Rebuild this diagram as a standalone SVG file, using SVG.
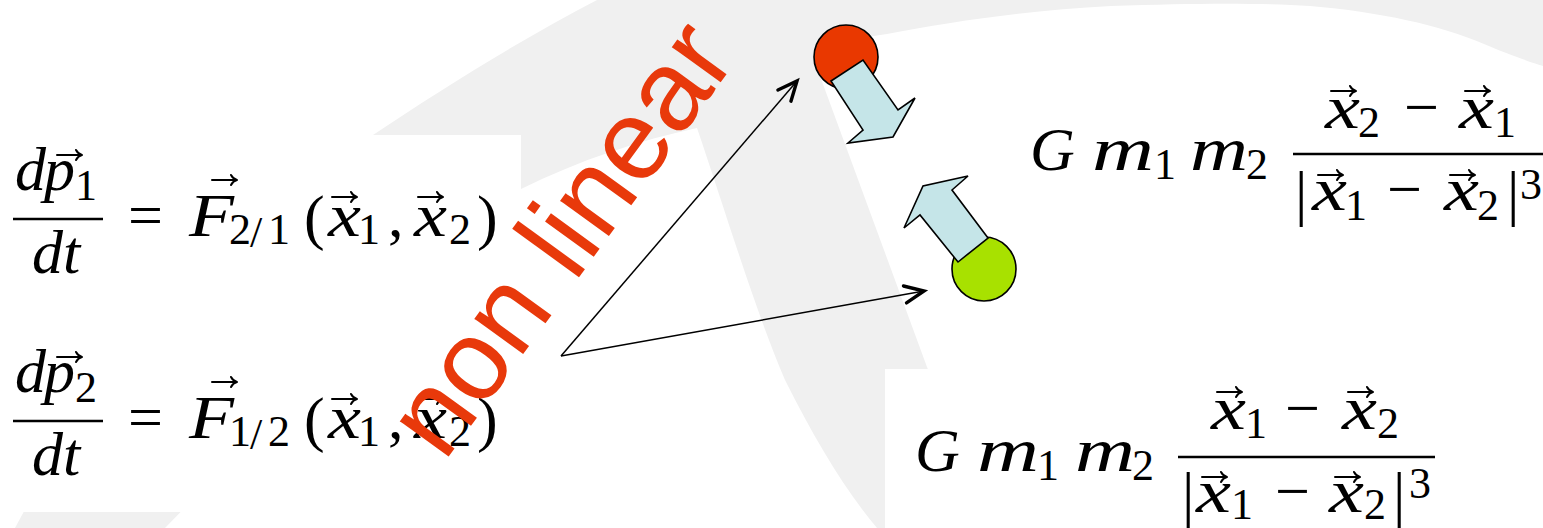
<svg xmlns="http://www.w3.org/2000/svg" xmlns:xlink="http://www.w3.org/1999/xlink" width="1543" height="528" viewBox="0 0 1543 528">
<style>
.i{font-family:"Liberation Serif","Times New Roman",serif;font-style:italic;font-size:62px;fill:#000}
.u{font-family:"Liberation Serif","Times New Roman",serif;font-style:normal;font-size:62px;fill:#000}
.s{font-family:"Liberation Serif","Times New Roman",serif;font-style:normal;font-size:44px;fill:#000}
.bar{stroke:#000;stroke-width:2.6}
.vec{fill:none;stroke:#000;stroke-width:2;stroke-linecap:round;stroke-linejoin:round}
.ball{stroke:#000;stroke-width:1.6}
.blk{fill:#c5e5e8;stroke:#000;stroke-width:1.6;stroke-linejoin:miter}
.con{fill:none;stroke:#000;stroke-width:1.5}
.nl{font-family:"Liberation Sans",Arial,sans-serif;font-size:114px;fill:#e8390b}
</style>
<defs>
<path id="vec" class="vec" d="M0,0 H24 M19,-5 Q21,-1 25,0 Q21,1 19,5"/>
<marker id="head" markerUnits="userSpaceOnUse" markerWidth="30" markerHeight="30" viewBox="-24 -12 28 24" refX="0" refY="0" orient="auto" overflow="visible">
<path d="M-18,-8 L0,0 L-18,8" fill="none" stroke="#000" stroke-width="3.2" stroke-linecap="round" stroke-linejoin="miter"/>
</marker>
</defs>

<g id="background">
<rect x="0" y="0" width="1543" height="528" fill="#fff"/>
<path d="M15,528 C120,330 250,200 373,135 C440,90 520,40 597,0 L1543,0 L1543,528 Z" fill="#f0f0f0"/>
<path d="M165,528 C300,390 430,250 521,189 C580,160 640,140 697,128 C725,210 755,310 785,380 C815,440 845,490 877,528 Z" fill="#fff"/>
<path d="M985,528 C960,450 940,400 927,367 L813,57 C830,45 855,38 887,34 C950,22 1030,10 1111,6 C1200,3 1260,3 1310,6 C1380,12 1440,25 1484,44 C1510,55 1530,62 1543,66 L1543,528 Z" fill="#fff"/>
<rect x="0" y="135" width="521" height="377" fill="#fff"/>
<rect x="885" y="369" width="658" height="159" fill="#fff"/>
</g>

<g id="eq-dp1">
<text class="i" x="15" y="190">d</text><text class="i" x="44" y="190">p</text><use xlink:href="#vec" x="57" y="155"/><text class="s" x="75" y="200">1</text>
<line class="bar" x1="13" y1="219" x2="103" y2="219"/>
<text class="i" x="32" y="273">d</text><text class="i" x="63" y="273">t</text>
<text class="u" x="128" y="236">=</text>
<text class="i" x="189" y="236" textLength="45" lengthAdjust="spacingAndGlyphs">F</text><use xlink:href="#vec" x="212" y="180"/>
<text class="s" x="229" y="244">2</text><text class="s" x="250" y="247" font-size="48">/</text><text class="s" x="268" y="244">1</text>
<text class="u" x="304" y="238" font-size="66">(</text>
<text class="i" x="328" y="236" textLength="33" lengthAdjust="spacingAndGlyphs">x</text><use xlink:href="#vec" x="332" y="197"/><text class="s" x="358" y="244">1</text>
<text class="u" x="388" y="236">,</text>
<text class="i" x="414" y="236" textLength="33" lengthAdjust="spacingAndGlyphs">x</text><use xlink:href="#vec" x="418" y="197"/><text class="s" x="449" y="244">2</text>
<text class="u" x="477" y="238" font-size="66">)</text>
</g>

<g id="eq-dp2">
<text class="i" x="15" y="392">d</text><text class="i" x="44" y="392">p</text><use xlink:href="#vec" x="57" y="357"/><text class="s" x="75" y="402">2</text>
<line class="bar" x1="13" y1="421" x2="103" y2="421"/>
<text class="i" x="32" y="475">d</text><text class="i" x="63" y="475">t</text>
<text class="u" x="128" y="438">=</text>
<text class="i" x="189" y="438" textLength="45" lengthAdjust="spacingAndGlyphs">F</text><use xlink:href="#vec" x="212" y="382"/>
<text class="s" x="229" y="446">1</text><text class="s" x="250" y="449" font-size="48">/</text><text class="s" x="268" y="446">2</text>
<text class="u" x="304" y="440" font-size="66">(</text>
<text class="i" x="328" y="438" textLength="33" lengthAdjust="spacingAndGlyphs">x</text><use xlink:href="#vec" x="332" y="399"/><text class="s" x="358" y="446">1</text>
<text class="u" x="388" y="438">,</text>
<text class="i" x="414" y="438" textLength="33" lengthAdjust="spacingAndGlyphs">x</text><use xlink:href="#vec" x="418" y="399"/><text class="s" x="449" y="446">2</text>
<text class="u" x="477" y="440" font-size="66">)</text>
</g>

<g id="force-21">
<text class="i" x="1030" y="170">G</text>
<text class="i" x="1092" y="170" textLength="62" lengthAdjust="spacingAndGlyphs">m</text><text class="s" x="1154" y="179">1</text>
<text class="i" x="1190" y="170" textLength="58" lengthAdjust="spacingAndGlyphs">m</text><text class="s" x="1246" y="179">2</text>
<line class="bar" x1="1293" y1="154" x2="1543" y2="154" stroke-width="3"/>
<text class="i" x="1325" y="128" textLength="35" lengthAdjust="spacingAndGlyphs">x</text><use xlink:href="#vec" x="1331" y="91"/><text class="s" x="1358" y="137">2</text>
<text class="u" x="1404" y="128">−</text>
<text class="i" x="1459" y="128" textLength="35" lengthAdjust="spacingAndGlyphs">x</text><use xlink:href="#vec" x="1465" y="91"/><text class="s" x="1494" y="137">1</text>
<text class="u" x="1295" y="214">|</text>
<text class="i" x="1312" y="210" textLength="35" lengthAdjust="spacingAndGlyphs">x</text><use xlink:href="#vec" x="1318" y="175"/><text class="s" x="1345" y="220">1</text>
<text class="u" x="1387" y="210">−</text>
<text class="i" x="1444" y="210" textLength="35" lengthAdjust="spacingAndGlyphs">x</text><use xlink:href="#vec" x="1450" y="175"/><text class="s" x="1477" y="220">2</text>
<text class="u" x="1507" y="214">|</text>
<text class="s" x="1520" y="199" font-size="40">3</text>
</g>

<g id="force-12">
<text class="i" x="915" y="471">G</text>
<text class="i" x="977" y="471" textLength="62" lengthAdjust="spacingAndGlyphs">m</text><text class="s" x="1037" y="480">1</text>
<text class="i" x="1075" y="471" textLength="60" lengthAdjust="spacingAndGlyphs">m</text><text class="s" x="1132" y="480">2</text>
<line class="bar" x1="1178" y1="457" x2="1435" y2="457" stroke-width="3"/>
<text class="i" x="1211" y="429" textLength="35" lengthAdjust="spacingAndGlyphs">x</text><use xlink:href="#vec" x="1217" y="392"/><text class="s" x="1245" y="438">1</text>
<text class="u" x="1285" y="429">−</text>
<text class="i" x="1342" y="429" textLength="35" lengthAdjust="spacingAndGlyphs">x</text><use xlink:href="#vec" x="1348" y="392"/><text class="s" x="1377" y="438">2</text>
<text class="u" x="1182" y="515">|</text>
<text class="i" x="1196" y="512" textLength="35" lengthAdjust="spacingAndGlyphs">x</text><use xlink:href="#vec" x="1202" y="477"/><text class="s" x="1231" y="519">1</text>
<text class="u" x="1275" y="512">−</text>
<text class="i" x="1329" y="512" textLength="35" lengthAdjust="spacingAndGlyphs">x</text><use xlink:href="#vec" x="1335" y="477"/><text class="s" x="1364" y="519">2</text>
<text class="u" x="1393" y="515">|</text>
<text class="s" x="1409" y="498">3</text>
</g>

<g id="mass-1">
<circle class="ball" cx="846" cy="57" r="32" fill="#e93800"/>
</g>
<g id="mass-2">
<circle class="ball" cx="984" cy="269" r="32" fill="#a8e100"/>
</g>
<g id="force-arrow-1">
<polygon class="blk" points="831,81 863,60 898,110 915,98 893,137 848,143 863,130"/>
</g>
<g id="force-arrow-2">
<polygon class="blk" points="988,238 952,190 968,176 923,186 904,228 920,215 958,262"/>
</g>

<g id="label-nonlinear">
<text class="nl" transform="translate(444,463) rotate(-54)">non linear</text>
</g>

<g id="connectors">
<line class="con" x1="561" y1="356" x2="797" y2="81" marker-end="url(#head)"/>
<line class="con" x1="561" y1="356" x2="924" y2="291" marker-end="url(#head)"/>
</g>
</svg>
